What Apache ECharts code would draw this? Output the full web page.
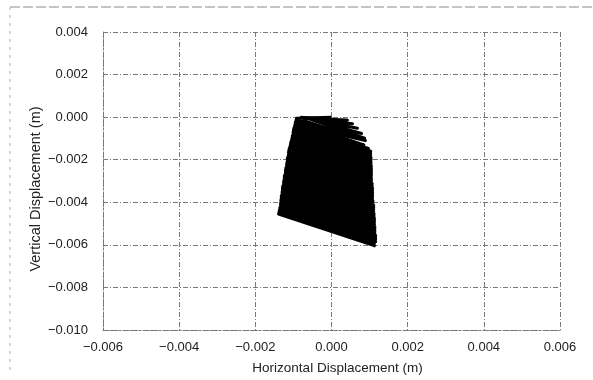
<!DOCTYPE html>
<html>
<head>
<meta charset="utf-8">
<style>
  html, body { margin: 0; padding: 0; background: #fff; }
  #chart { width: 593px; height: 380px; }
</style>
<script src="https://cdn.jsdelivr.net/npm/echarts@6/dist/echarts.min.js"></script>
</head>
<body>
<div id="chart"></div>
<script>
// Displacement trajectory of the measured point (m), first loading cycle
const horizontalA = [
  0.00000, -0.00092, 0.00062, -0.00095, 0.00085, -0.00097, 0.00103, -0.00100, 0.00103,
  -0.00101, 0.00104, -0.00104, 0.00104, -0.00107, 0.00105, -0.00109, 0.00105,
  -0.00112, 0.00105, -0.00113, 0.00105, -0.00116, 0.00107, -0.00117, 0.00108,
  -0.00118, 0.00108, -0.00121, 0.00108, -0.00122, 0.00109, -0.00124, 0.00111,
  -0.00126, 0.00111, -0.00128, 0.00112, -0.00129, 0.00113, -0.00130, 0.00113,
  -0.00132, 0.00114, -0.00133, 0.00114, -0.00134, 0.00116, -0.00137, 0.00116,
  -0.00139, 0.00116
];
const verticalA = [
  0.00000, -0.00005, -0.00095, -0.00023, -0.00130, -0.00042, -0.00160, -0.00061, -0.00180,
  -0.00080, -0.00200, -0.00099, -0.00221, -0.00117, -0.00242, -0.00136, -0.00262,
  -0.00155, -0.00283, -0.00174, -0.00302, -0.00192, -0.00323, -0.00211, -0.00344,
  -0.00230, -0.00363, -0.00249, -0.00384, -0.00268, -0.00404, -0.00286, -0.00424,
  -0.00305, -0.00445, -0.00324, -0.00465, -0.00343, -0.00485, -0.00362, -0.00505,
  -0.00380, -0.00525, -0.00399, -0.00545, -0.00418, -0.00565, -0.00437, -0.00585,
  -0.00455, -0.00606
];

// Second loading cycle
const horizontalB = [
  -0.00082, 0.00042, -0.00074, 0.00055, -0.00066, 0.00068, -0.00058, 0.00079,
  -0.00050, 0.00087,
  -0.00093, 0.00089, -0.00096, 0.00097,
  -0.00099, 0.00103, -0.00101, 0.00104, -0.00103, 0.00104, -0.00105, 0.00105,
  -0.00108, 0.00105, -0.00111, 0.00105, -0.00113, 0.00105, -0.00114, 0.00107,
  -0.00116, 0.00108, -0.00118, 0.00108, -0.00120, 0.00108, -0.00121, 0.00109,
  -0.00124, 0.00111, -0.00125, 0.00111, -0.00126, 0.00112, -0.00129, 0.00113,
  -0.00130, 0.00113, -0.00132, 0.00114, -0.00133, 0.00114, -0.00134, 0.00116,
  -0.00136, 0.00116, -0.00138, 0.00116
];
const verticalB = [
  0.00000, -0.00014, -0.00005, -0.00031, -0.00005, -0.00052, -0.00009, -0.00077,
  -0.00014, -0.00099,
  -0.00014, -0.00110, -0.00033, -0.00147,
  -0.00052, -0.00170, -0.00070, -0.00191, -0.00089, -0.00211, -0.00108, -0.00232,
  -0.00127, -0.00252, -0.00146, -0.00273, -0.00164, -0.00293, -0.00183, -0.00313,
  -0.00202, -0.00334, -0.00221, -0.00354, -0.00239, -0.00373, -0.00258, -0.00394,
  -0.00277, -0.00415, -0.00296, -0.00434, -0.00315, -0.00455, -0.00333, -0.00476,
  -0.00352, -0.00495, -0.00371, -0.00516, -0.00390, -0.00535, -0.00408, -0.00556,
  -0.00427, -0.00575, -0.00446, -0.00595
];

// Axis ranges
const xMin = -0.006, xMax = 0.006, xStep = 0.002;
const yMin = -0.010, yMax = 0.004, yStep = 0.002;
const xTitle = 'Horizontal Displacement (m)';
const yTitle = 'Vertical Displacement (m)';

const pathA = horizontalA.map((h, i) => [h, verticalA[i]]);
const pathB = horizontalB.map((h, i) => [h, verticalB[i]]);

const fmt = v => {
  const s = Math.abs(v) < 1e-9 ? '0.000' : v.toFixed(3);
  return s.replace('-', '\u2212');
};

const FONT = 'Liberation Sans, Arial, sans-serif';
const gridLine = { show: true, lineStyle: { color: '#7a7a7a', width: 1, type: [5, 2, 1, 2] } };
const border = { show: true, onZero: false, lineStyle: { color: '#777', width: 1, type: [2, 2] } };
const tickFont = { color: '#222', fontSize: 13, fontFamily: FONT };

const trace = (data) => ({
  type: 'line',
  data: data,
  showSymbol: false,
  smooth: false,
  lineStyle: { color: '#000', width: 3, join: 'round' },
  z: 5
});

const chart = echarts.init(document.getElementById('chart'), null, { renderer: 'canvas' });
chart.setOption({
  animation: false,
  backgroundColor: '#fff',
  grid: { left: 103, right: 33, top: 32, bottom: 50, show: false },
  graphic: [
    { type: 'line', shape: { x1: 10, y1: 7, x2: 593, y2: 7 },
      style: { stroke: '#8a8a8a', lineWidth: 1, lineDash: [10, 3] }, silent: true },
    { type: 'line', shape: { x1: 10, y1: 7, x2: 10, y2: 372 },
      style: { stroke: '#b0b0b0', lineWidth: 1, lineDash: [3, 5] }, silent: true }
  ],
  xAxis: {
    type: 'value', min: xMin, max: xMax, interval: xStep,
    name: xTitle, nameLocation: 'middle', nameGap: 31, nameMoveOverlap: false,
    nameTextStyle: { color: '#222', fontSize: 13.5, fontFamily: FONT, padding: [0, 0, 0, 12] },
    axisLine: border, axisTick: { show: false },
    axisLabel: Object.assign({ margin: 11, formatter: fmt }, tickFont),
    splitLine: gridLine
  },
  yAxis: {
    type: 'value', min: yMin, max: yMax, interval: yStep,
    name: yTitle, nameLocation: 'middle', nameGap: 60, nameMoveOverlap: false,
    nameTextStyle: { color: '#222', fontSize: 14.5, fontFamily: FONT, padding: [0, 16, 0, 0] },
    axisLine: border, axisTick: { show: false },
    axisLabel: Object.assign({ margin: 15, formatter: fmt }, tickFont),
    splitLine: gridLine
  },
  series: [trace(pathA), trace(pathB)]
});
</script>
</body>
</html>
